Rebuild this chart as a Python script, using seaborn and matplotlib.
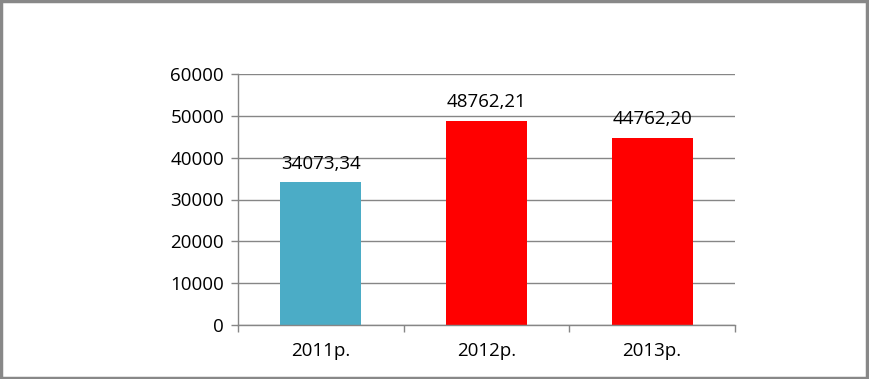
import pandas as pd
import seaborn as sns
import matplotlib.pyplot as plt
from matplotlib.patches import Rectangle

years = ["2011р.", "2012р.", "2013р."]
values = [34073.34, 48762.21, 44762.20]
bar_colors = ["#4BACC6", "#FF0000", "#FF0000"]

data = pd.DataFrame({"year": years, "value": values})

sns.set_style("white")
plt.rcParams["font.family"] = ["Open Sans", "DejaVu Sans"]

fig = plt.figure(figsize=(8.69, 3.79), dpi=100)
ax = fig.add_axes([238 / 869, 1 - 325 / 379, (735 - 238) / 869, (325 - 74) / 379])

sns.barplot(data=data, x="year", y="value", hue="year", palette=bar_colors,
            width=0.49, saturation=1, legend=False, linewidth=0, ax=ax)

for rect, v in zip(ax.patches, values):
    txt = f"{v:.2f}".replace(".", ",")
    ax.annotate(txt, xy=(rect.get_x() + rect.get_width() / 2, rect.get_height()),
                xytext=(0, 7), textcoords="offset points", ha="center", va="bottom",
                fontsize=13.5, color="black")

ax.set_ylim(0, 60000)
ax.set_xlim(-0.5, 2.5)
ax.set_yticks(range(0, 60001, 10000))
ax.yaxis.grid(True, color="#868686", linewidth=1)
ax.set_axisbelow(True)
ax.set_xlabel("")
ax.set_ylabel("")

# category ticks sit between the bars
ax.set_xticks([-0.5, 0.5, 1.5, 2.5], minor=False)
ax.set_xticklabels([])
ax.set_xticks([0, 1, 2], minor=True)
ax.set_xticklabels(years, minor=True)
ax.tick_params(axis="x", which="minor", bottom=False, length=0, pad=12, labelsize=13.5,
               labelcolor="black")
ax.tick_params(axis="x", which="major", bottom=True, length=5, width=1,
               color="#868686", direction="out")
ax.tick_params(axis="y", left=True, length=5, width=1, color="#868686", direction="out",
               pad=5, labelsize=13.5, labelcolor="black")

for side in ["top", "right"]:
    ax.spines[side].set_visible(False)
for side in ["left", "bottom"]:
    ax.spines[side].set_color("#868686")
    ax.spines[side].set_linewidth(1)

fig.patches.append(Rectangle((0.001, 0.003), 0.997, 0.994, transform=fig.transFigure,
                             fill=False, edgecolor="#888888", linewidth=2.5))

fig.savefig("out.png", dpi=100)
